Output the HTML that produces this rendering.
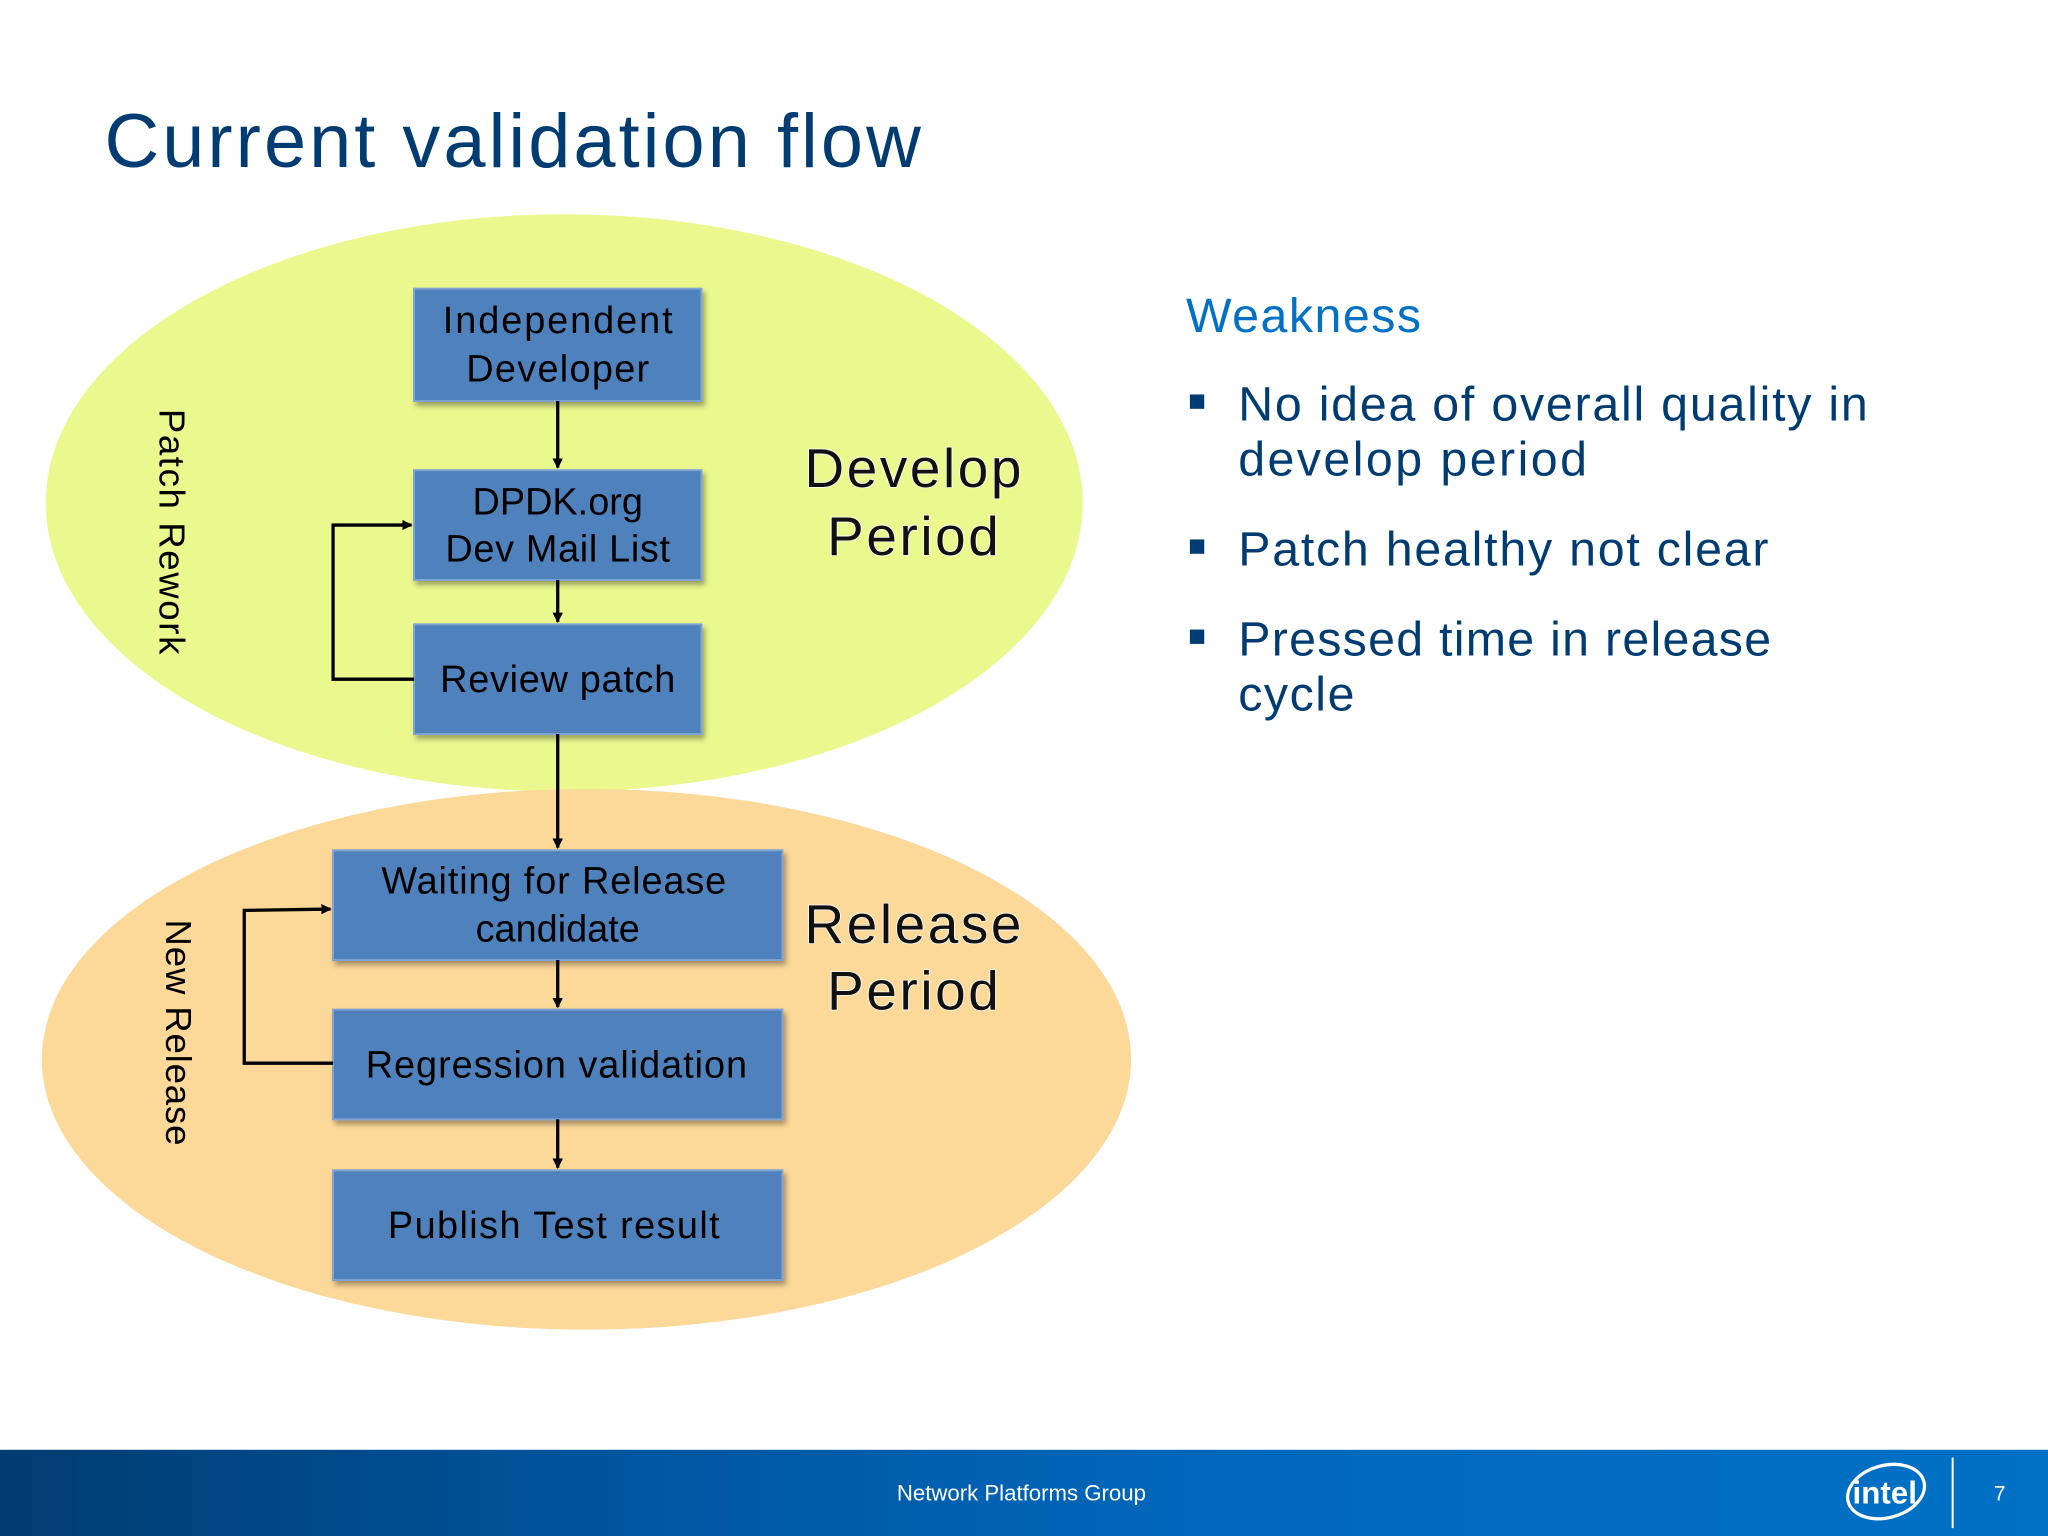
<!DOCTYPE html>
<html><head><meta charset="utf-8"><style>
html,body{margin:0;padding:0;background:#fff}
svg{display:block}
text{font-family:"Liberation Sans","DejaVu Sans",sans-serif}
</style></head><body>
<svg width="2048" height="1536" viewBox="0 0 1568 1176" xmlns="http://www.w3.org/2000/svg">
<defs>
<linearGradient id="ft" x1="0" x2="1" y1="0" y2="0">
<stop offset="0" stop-color="#003c71"/><stop offset="0.3" stop-color="#00559f"/><stop offset="0.6" stop-color="#0068bd"/><stop offset="1" stop-color="#0071c5"/></linearGradient>
<marker id="ar" markerWidth="8" markerHeight="8" refX="7" refY="4" orient="auto" markerUnits="userSpaceOnUse"><path d="M0,0 L8,4 L0,8 z" fill="#000"/></marker>
<filter id="sh" x="-10%" y="-10%" width="130%" height="140%"><feDropShadow dx="2" dy="3" stdDeviation="2" flood-color="#000" flood-opacity="0.35"/></filter>
</defs>
<rect width="1568" height="1176" fill="#fff"/>
<text x="80" y="128" font-size="58" fill="#003c71" textLength="625" lengthAdjust="spacing">Current validation flow</text>
<ellipse cx="432" cy="385" rx="397" ry="221" fill="#ebf88e"/>
<ellipse cx="449" cy="811" rx="417" ry="207" fill="#fcd899"/>
<g fill="#4f81bd" stroke="#7ea3d3" stroke-width="1.5" filter="url(#sh)">
<rect x="317" y="221" width="220" height="86"/>
<rect x="317" y="360" width="220" height="84"/>
<rect x="317" y="478" width="220" height="84"/>
<rect x="255" y="651" width="344" height="84"/>
<rect x="255" y="773" width="344" height="84"/>
<rect x="255" y="896" width="344" height="84"/>
</g>
<g font-size="29" fill="#000" text-anchor="middle">
<text x="427" y="255" textLength="176" lengthAdjust="spacing">Independent</text><text x="427" y="292" textLength="140" lengthAdjust="spacing">Developer</text>
<text x="427" y="394">DPDK.org</text><text x="427" y="430" textLength="172" lengthAdjust="spacing">Dev Mail List</text>
<text x="427" y="530" textLength="180" lengthAdjust="spacing">Review patch</text>
<text x="424" y="684" textLength="264" lengthAdjust="spacing">Waiting for Release</text><text x="427" y="721">candidate</text>
<text x="426" y="825" textLength="292" lengthAdjust="spacing">Regression validation</text>
<text x="424" y="948" textLength="254" lengthAdjust="spacing">Publish Test result</text>
</g>
<g stroke="#000" stroke-width="2.5" fill="none" marker-end="url(#ar)">
<line x1="427" y1="307" x2="427" y2="358"/>
<line x1="427" y1="444" x2="427" y2="476"/>
<line x1="427" y1="562" x2="427" y2="649"/>
<line x1="427" y1="735" x2="427" y2="771"/>
<line x1="427" y1="857" x2="427" y2="894"/>
<polyline points="317,520 255,520 255,402 315,402"/>
<polyline points="255,814 187,814 187,697 253,696"/>
</g>
<text transform="translate(122,313) rotate(90)" font-size="28" fill="#000" textLength="188" lengthAdjust="spacing">Patch Rework</text>
<text transform="translate(127,704) rotate(90)" font-size="28" fill="#000" textLength="173" lengthAdjust="spacing">New Release</text>
<g font-size="42" fill="#111" stroke="#fff" stroke-width="1.2" text-anchor="middle" letter-spacing="2" paint-order="stroke">
<text x="700" y="373">Develop</text><text x="700" y="425">Period</text>
<text x="700" y="722">Release</text><text x="700" y="773">Period</text>
</g>
<text x="908" y="254" font-size="37" fill="#0071c5" textLength="180" lengthAdjust="spacing">Weakness</text>
<g font-size="37" fill="#003c71">
<rect x="911" y="302" width="11" height="11"/>
<text x="948" y="322" textLength="482" lengthAdjust="spacing">No idea of overall quality in</text>
<text x="948" y="364" textLength="267" lengthAdjust="spacing">develop period</text>
<rect x="911" y="413" width="11" height="11"/>
<text x="948" y="433" textLength="406" lengthAdjust="spacing">Patch healthy not clear</text>
<rect x="911" y="482" width="11" height="11"/>
<text x="948" y="502" textLength="408" lengthAdjust="spacing">Pressed time in release</text>
<text x="948" y="544" textLength="89" lengthAdjust="spacing">cycle</text>
</g>
<rect x="0" y="1110" width="1568" height="66" fill="url(#ft)"/>
<text x="782" y="1149" font-size="17" fill="#fff" text-anchor="middle">Network Platforms Group</text>
<ellipse cx="1444" cy="1142" rx="30" ry="20" fill="none" stroke="#fff" stroke-width="2.5" transform="rotate(-15 1444 1142)"/>
<text x="1443" y="1151" font-size="24" fill="#fff" text-anchor="middle" font-weight="bold">intel</text>
<line x1="1495" y1="1116" x2="1495" y2="1170" stroke="#fff" stroke-width="1.5"/>
<text x="1531" y="1149" font-size="16" fill="#fff" text-anchor="middle">7</text>
</svg>
</body></html>
